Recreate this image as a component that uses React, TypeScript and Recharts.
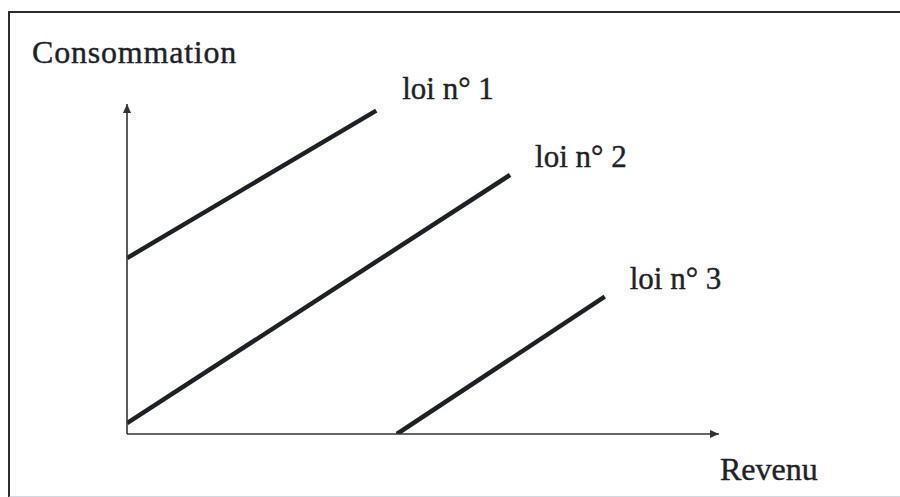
import { LineChart, Line, XAxis, YAxis, Label, LabelList } from "recharts";

// Revenu (x) / Consommation (y), both on a 0-100 scale
const loi1 = [
  { revenu: 0, conso: 53.3 },
  { revenu: 42.1, conso: 98 },
];
const loi2 = [
  { revenu: 0, conso: 3.3 },
  { revenu: 64.7, conso: 78.5 },
];
const loi3 = [
  { revenu: 45.6, conso: 0 },
  { revenu: 80.7, conso: 41.6 },
];
const lineNames = ["loi n° 1", "loi n° 2", "loi n° 3"];
const xTitle = "Revenu";
const yTitle = "Consommation";

const ink = "#1e2227";
const font = "Liberation Serif, DejaVu Serif, serif";

const endLabel = (name: string, dx: number, dy: number, last: number) => (props: any) => {
  if (props.index !== last) return null;
  return (
    <text
      x={props.x + dx}
      y={props.y + dy}
      style={{ fontFamily: font, fontSize: 31 }}
      fill={ink}
      stroke={ink}
      strokeWidth={0.4}
    >
      {name}
    </text>
  );
};

export default function App() {
  return (
    <div style={{ position: "absolute", left: 0, top: 0, width: 900, height: 497, background: "#fff" }}>
      <div
        style={{
          position: "absolute",
          left: 8,
          top: 11,
          width: 892,
          height: 483,
          borderTop: "2px solid #2a2c30",
          borderLeft: "2px solid #2a2c30",
          borderBottom: "2px solid #c5dcec",
        }}
      />
      <div style={{ position: "absolute", left: 0, top: 0 }}>
        <LineChart width={900} height={497} margin={{ top: 104, right: 181, bottom: 62, left: 126 }}>
          <defs>
            <marker
              id="arrow"
              viewBox="0 0 10 10"
              refX={10}
              refY={5}
              markerWidth={10}
              markerHeight={9}
              markerUnits="userSpaceOnUse"
              orient="auto-start-reverse"
            >
              <path d="M0,0.5 L10,5 L0,9.5 z" fill="#333" />
            </marker>
          </defs>
          <XAxis
            dataKey="revenu"
            type="number"
            domain={[0, 100]}
            allowDataOverflow
            height={1}
            tick={false}
            tickLine={false}
            axisLine={{ stroke: "#333", strokeWidth: 1.6, markerEnd: "url(#arrow)" }}
          >
            <Label
              content={(p: any) => (
                <text
                  x={p.viewBox.x + p.viewBox.width + 1}
                  y={p.viewBox.y + 46}
                  style={{ fontFamily: font, fontSize: 32 }}
                  fill={ink}
                  stroke={ink}
                  strokeWidth={0.4}
                >
                  {xTitle}
                </text>
              )}
            />
          </XAxis>
          <YAxis
            type="number"
            domain={[0, 100]}
            allowDataOverflow
            width={1}
            tick={false}
            tickLine={false}
            axisLine={{ stroke: "#333", strokeWidth: 1.6, markerStart: "url(#arrow)" }}
          >
            <Label
              content={(p: any) => (
                <text
                  x={p.viewBox.x - 94}
                  y={p.viewBox.y - 41}
                  style={{ fontFamily: font, fontSize: 32, letterSpacing: 0.8 }}
                  fill={ink}
                  stroke={ink}
                  strokeWidth={0.4}
                >
                  {yTitle}
                </text>
              )}
            />
          </YAxis>
          <Line data={loi1} dataKey="conso" stroke={ink} strokeWidth={4.5} dot={false} isAnimationActive={false}>
            <LabelList dataKey="conso" content={endLabel(lineNames[0], 26, -12, loi1.length - 1)} />
          </Line>
          <Line data={loi2} dataKey="conso" stroke={ink} strokeWidth={4.5} dot={false} isAnimationActive={false}>
            <LabelList dataKey="conso" content={endLabel(lineNames[1], 25, -8, loi2.length - 1)} />
          </Line>
          <Line data={loi3} dataKey="conso" stroke={ink} strokeWidth={4.5} dot={false} isAnimationActive={false}>
            <LabelList dataKey="conso" content={endLabel(lineNames[2], 25, -8, loi3.length - 1)} />
          </Line>
        </LineChart>
      </div>
    </div>
  );
}
